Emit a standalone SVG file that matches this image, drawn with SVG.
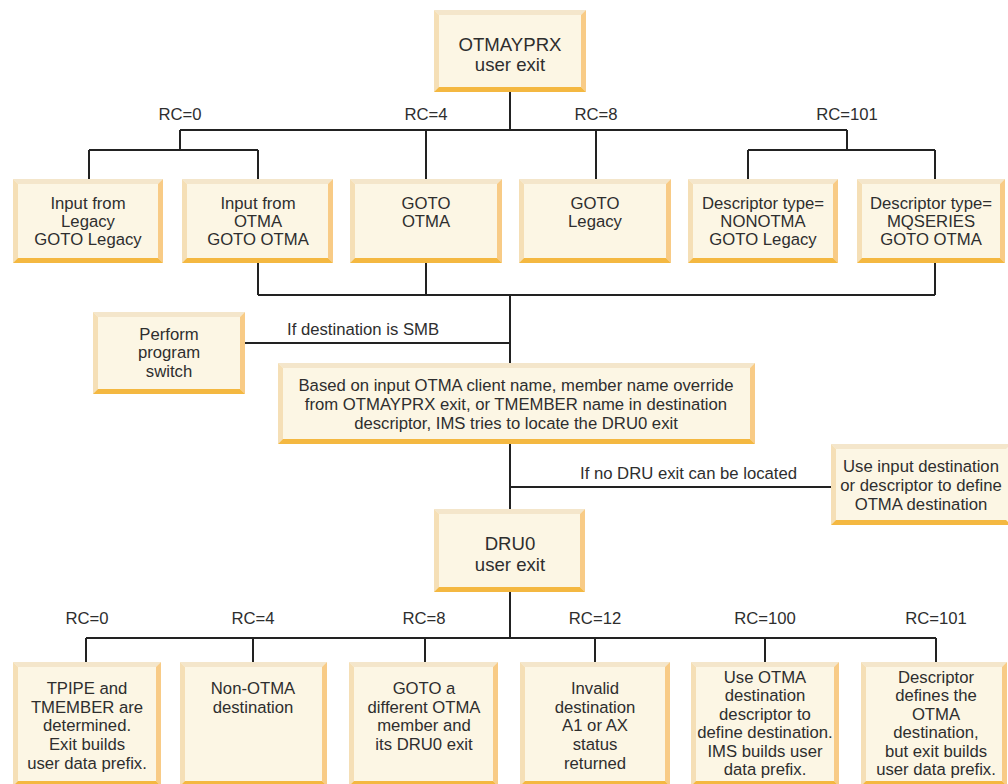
<svg xmlns="http://www.w3.org/2000/svg" width="1008" height="784" viewBox="0 0 1008 784">
<style>
text{font-family:"Liberation Sans",Arial,sans-serif;font-size:16.7px;fill:#2e2e2e;text-anchor:middle}
.big{font-size:18.6px}
.lbl{text-anchor:start}
.face{fill:#fcf6e4}
.bt{fill:#f4e6cb}
.bl{fill:#f5dfb6}
.br{fill:#f8cb86}
.bb{fill:#f4b841}
.conn{stroke:#222;stroke-width:2;fill:none}
</style>
<rect width="1008" height="784" fill="#fff"/>
<g id="connectors" class="conn">
<path d="M510 92V130M180 130H847M180 130V150M426 130V179M596 130V179M847 130V150"/>
<path d="M89 150H258M89 150V179M258 150V179"/>
<path d="M748 150H935M748 150V179M935 150V179"/>
<path d="M258 263V295M426 263V295M935 263V295M258 295H935M510 295V363"/>
<path d="M245 343H510"/>
<path d="M510 444V509M510 487H831"/>
<path d="M510 592V638M86 638H936M86 638V662M253 638V662M425 638V662M595 638V662M765 638V662M936 638V662"/>
</g>
<g id="labels">
<text x="180" y="120">RC=0</text>
<text x="426" y="120">RC=4</text>
<text x="596" y="120">RC=8</text>
<text x="847" y="120">RC=101</text>
<text class="lbl" x="287" y="335">If destination is SMB</text>
<text class="lbl" x="580" y="479">If no DRU exit can be located</text>
<text x="87" y="624">RC=0</text>
<text x="253" y="624">RC=4</text>
<text x="424" y="624">RC=8</text>
<text x="595" y="624">RC=12</text>
<text x="765" y="624">RC=100</text>
<text x="936" y="624">RC=101</text>
</g>
<g id="otmayprx">
<rect class="face" x="434" y="10" width="152" height="82"/>
<polygon class="bt" points="434,10 586,10 581,15 439,15"/>
<polygon class="bl" points="434,10 439,15 439,87 434,92"/>
<polygon class="br" points="586,10 586,92 581,87 581,15"/>
<polygon class="bb" points="434,92 586,92 581,87 439,87"/>
<text class="big" x="510" y="51">OTMAYPRX</text>
<text class="big" x="510" y="71">user exit</text>
</g>
<g id="r1a">
<rect class="face" x="13" y="179" width="150" height="84"/>
<polygon class="bt" points="13,179 163,179 158,184 18,184"/>
<polygon class="bl" points="13,179 18,184 18,258 13,263"/>
<polygon class="br" points="163,179 163,263 158,258 158,184"/>
<polygon class="bb" points="13,263 163,263 158,258 18,258"/>
<text x="88" y="209">Input from</text>
<text x="88" y="227">Legacy</text>
<text x="88" y="245">GOTO Legacy</text>
</g>
<g id="r1b">
<rect class="face" x="182" y="179" width="151" height="84"/>
<polygon class="bt" points="182,179 333,179 328,184 187,184"/>
<polygon class="bl" points="182,179 187,184 187,258 182,263"/>
<polygon class="br" points="333,179 333,263 328,258 328,184"/>
<polygon class="bb" points="182,263 333,263 328,258 187,258"/>
<text x="258" y="209">Input from</text>
<text x="258" y="227">OTMA</text>
<text x="258" y="245">GOTO OTMA</text>
</g>
<g id="r1c">
<rect class="face" x="350" y="179" width="152" height="84"/>
<polygon class="bt" points="350,179 502,179 497,184 355,184"/>
<polygon class="bl" points="350,179 355,184 355,258 350,263"/>
<polygon class="br" points="502,179 502,263 497,258 497,184"/>
<polygon class="bb" points="350,263 502,263 497,258 355,258"/>
<text x="426" y="209">GOTO</text>
<text x="426" y="227">OTMA</text>
</g>
<g id="r1d">
<rect class="face" x="519" y="179" width="152" height="84"/>
<polygon class="bt" points="519,179 671,179 666,184 524,184"/>
<polygon class="bl" points="519,179 524,184 524,258 519,263"/>
<polygon class="br" points="671,179 671,263 666,258 666,184"/>
<polygon class="bb" points="519,263 671,263 666,258 524,258"/>
<text x="595" y="209">GOTO</text>
<text x="595" y="227">Legacy</text>
</g>
<g id="r1e">
<rect class="face" x="688" y="179" width="150" height="84"/>
<polygon class="bt" points="688,179 838,179 833,184 693,184"/>
<polygon class="bl" points="688,179 693,184 693,258 688,263"/>
<polygon class="br" points="838,179 838,263 833,258 833,184"/>
<polygon class="bb" points="688,263 838,263 833,258 693,258"/>
<text x="763" y="209">Descriptor type=</text>
<text x="763" y="227">NONOTMA</text>
<text x="763" y="245">GOTO Legacy</text>
</g>
<g id="r1f">
<rect class="face" x="857" y="179" width="148" height="84"/>
<polygon class="bt" points="857,179 1005,179 1000,184 862,184"/>
<polygon class="bl" points="857,179 862,184 862,258 857,263"/>
<polygon class="br" points="1005,179 1005,263 1000,258 1000,184"/>
<polygon class="bb" points="857,263 1005,263 1000,258 862,258"/>
<text x="931" y="209">Descriptor type=</text>
<text x="931" y="227">MQSERIES</text>
<text x="931" y="245">GOTO OTMA</text>
</g>
<g id="perform">
<rect class="face" x="93" y="312" width="152" height="82"/>
<polygon class="bt" points="93,312 245,312 240,317 98,317"/>
<polygon class="bl" points="93,312 98,317 98,389 93,394"/>
<polygon class="br" points="245,312 245,394 240,389 240,317"/>
<polygon class="bb" points="93,394 245,394 240,389 98,389"/>
<text x="169" y="340">Perform</text>
<text x="169" y="358">program</text>
<text x="169" y="377">switch</text>
</g>
<g id="locate">
<rect class="face" x="278" y="363" width="477" height="81"/>
<polygon class="bt" points="278,363 755,363 750,368 283,368"/>
<polygon class="bl" points="278,363 283,368 283,439 278,444"/>
<polygon class="br" points="755,363 755,444 750,439 750,368"/>
<polygon class="bb" points="278,444 755,444 750,439 283,439"/>
<text x="516" y="391">Based on input OTMA client name, member name override</text>
<text x="516" y="410">from OTMAYPRX exit, or TMEMBER name in destination</text>
<text x="516" y="429">descriptor, IMS tries to locate the DRU0 exit</text>
</g>
<g id="useinput">
<rect class="face" x="831" y="444" width="180" height="81"/>
<polygon class="bt" points="831,444 1011,444 1006,449 836,449"/>
<polygon class="bl" points="831,444 836,449 836,520 831,525"/>
<polygon class="bb" points="831,525 1011,525 1006,520 836,520"/>
<text x="921" y="472">Use input destination</text>
<text x="921" y="491">or descriptor to define</text>
<text x="921" y="510">OTMA destination</text>
</g>
<g id="dru0">
<rect class="face" x="434" y="509" width="151" height="83"/>
<polygon class="bt" points="434,509 585,509 580,514 439,514"/>
<polygon class="bl" points="434,509 439,514 439,587 434,592"/>
<polygon class="br" points="585,509 585,592 580,587 580,514"/>
<polygon class="bb" points="434,592 585,592 580,587 439,587"/>
<text class="big" x="510" y="550">DRU0</text>
<text class="big" x="510" y="571">user exit</text>
</g>
<g id="r2a">
<rect class="face" x="13" y="662" width="148" height="124"/>
<polygon class="bt" points="13,662 161,662 156,667 18,667"/>
<polygon class="bl" points="13,662 18,667 18,781 13,786"/>
<polygon class="br" points="161,662 161,786 156,781 156,667"/>
<polygon class="bb" points="13,786 161,786 156,781 18,781"/>
<text x="87" y="694">TPIPE and</text>
<text x="87" y="713">TMEMBER are</text>
<text x="87" y="731">determined.</text>
<text x="87" y="750">Exit builds</text>
<text x="87" y="769">user data prefix.</text>
</g>
<g id="r2b">
<rect class="face" x="180" y="662" width="147" height="124"/>
<polygon class="bt" points="180,662 327,662 322,667 185,667"/>
<polygon class="bl" points="180,662 185,667 185,781 180,786"/>
<polygon class="br" points="327,662 327,786 322,781 322,667"/>
<polygon class="bb" points="180,786 327,786 322,781 185,781"/>
<text x="253" y="694">Non-OTMA</text>
<text x="253" y="713">destination</text>
</g>
<g id="r2c">
<rect class="face" x="349" y="662" width="149" height="124"/>
<polygon class="bt" points="349,662 498,662 493,667 354,667"/>
<polygon class="bl" points="349,662 354,667 354,781 349,786"/>
<polygon class="br" points="498,662 498,786 493,781 493,667"/>
<polygon class="bb" points="349,786 498,786 493,781 354,781"/>
<text x="424" y="694">GOTO a</text>
<text x="424" y="713">different OTMA</text>
<text x="424" y="731">member and</text>
<text x="424" y="750">its DRU0 exit</text>
</g>
<g id="r2d">
<rect class="face" x="520" y="662" width="150" height="124"/>
<polygon class="bt" points="520,662 670,662 665,667 525,667"/>
<polygon class="bl" points="520,662 525,667 525,781 520,786"/>
<polygon class="br" points="670,662 670,786 665,781 665,667"/>
<polygon class="bb" points="520,786 670,786 665,781 525,781"/>
<text x="595" y="694">Invalid</text>
<text x="595" y="713">destination</text>
<text x="595" y="731">A1 or AX</text>
<text x="595" y="750">status</text>
<text x="595" y="769">returned</text>
</g>
<g id="r2e">
<rect class="face" x="691" y="662" width="148" height="124"/>
<polygon class="bt" points="691,662 839,662 834,667 696,667"/>
<polygon class="bl" points="691,662 696,667 696,781 691,786"/>
<polygon class="br" points="839,662 839,786 834,781 834,667"/>
<polygon class="bb" points="691,786 839,786 834,781 696,781"/>
<text x="765" y="683">Use OTMA</text>
<text x="765" y="701">destination</text>
<text x="765" y="720">descriptor to</text>
<text x="765" y="738">define destination.</text>
<text x="765" y="757">IMS builds user</text>
<text x="765" y="775">data prefix.</text>
</g>
<g id="r2f">
<rect class="face" x="861" y="662" width="146" height="124"/>
<polygon class="bt" points="861,662 1007,662 1002,667 866,667"/>
<polygon class="bl" points="861,662 866,667 866,781 861,786"/>
<polygon class="br" points="1007,662 1007,786 1002,781 1002,667"/>
<polygon class="bb" points="861,786 1007,786 1002,781 866,781"/>
<text x="936" y="683">Descriptor</text>
<text x="936" y="701">defines the</text>
<text x="936" y="720">OTMA</text>
<text x="936" y="738">destination,</text>
<text x="936" y="757">but exit builds</text>
<text x="936" y="775">user data prefix.</text>
</g>
</svg>
